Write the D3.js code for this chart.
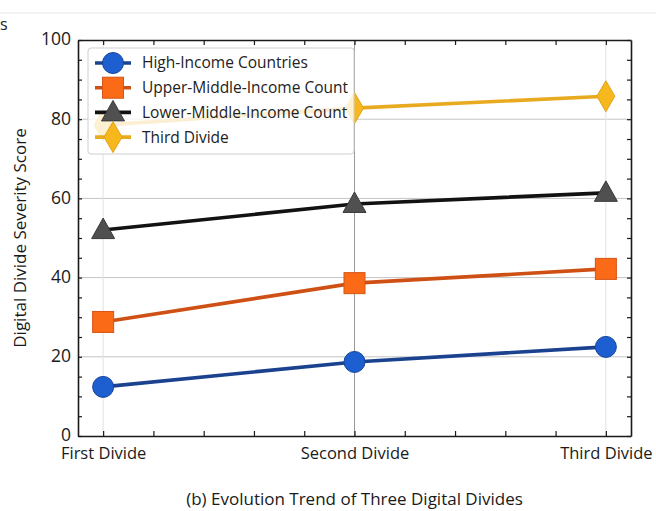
<!DOCTYPE html>
<html>
<head>
<meta charset="utf-8">
<script src="https://cdn.jsdelivr.net/npm/d3@7"></script>
<style>
  html, body { margin: 0; padding: 0; background: #fff; }
  svg { display: block; font-family: "Open Sans", "DejaVu Sans", sans-serif; }
</style>
</head>
<body>
<svg id="chart" width="656" height="511"></svg>
<script>
// Severity scores of the three digital divides by income group
const categories = ["First Divide", "Second Divide", "Third Divide"];
const seriesNames = [
  "High-Income Countries",
  "Upper-Middle-Income Countries",
  "Lower-Middle-Income Countries",
  "Third Divide"
];
const highIncome = [12.4, 18.7, 22.5];
const upperMiddleIncome = [28.8, 38.6, 42.2];
const lowerMiddleIncome = [52.0, 58.6, 61.4];
const thirdDivide = [78.5, 82.8, 85.8];
const yTickLabels = [0, 20, 40, 60, 80, 100];

const styles = [
  { line: "#1a428f", fill: "#1d5fd0", stroke: "#18449a", shape: "circle" },
  { line: "#cf5014", fill: "#fb6a16", stroke: "#d65416", shape: "square" },
  { line: "#121212", fill: "#505050", stroke: "#3a3a3a", shape: "triangle" },
  { line: "#e8ab20", fill: "#f6b81c", stroke: "#e2a21a", shape: "diamond" }
];
const seriesValues = [highIncome, upperMiddleIncome, lowerMiddleIncome, thirdDivide];

const svg = d3.select("#chart");
const L = 78, R = 631, T = 40, B = 436;

const x = d3.scaleLinear().domain([-0.1, 2.1]).range([L, R]);
const y = d3.scaleLinear().domain([0, 100]).range([B, T]);

// faint rule along the top of the page and a stray glyph from the neighbouring panel
svg.append("line").attr("x1", 0).attr("x2", 656).attr("y1", 13).attr("y2", 13)
  .attr("stroke", "#e6e6e6").attr("stroke-width", 1);
svg.append("text").attr("x", 0).attr("y", 30).attr("font-size", 16).attr("fill", "#222").text("s");

// grid
const grid = svg.append("g");
grid.selectAll("line.h").data(yTickLabels.filter(v => v > 0 && v < 100)).join("line")
  .attr("x1", L).attr("x2", R).attr("y1", d => y(d)).attr("y2", d => y(d))
  .attr("stroke", "#c4c4c4").attr("stroke-width", 1);
grid.selectAll("line.v").data(categories).join("line")
  .attr("x1", (d, i) => x(i)).attr("x2", (d, i) => x(i)).attr("y1", T).attr("y2", B)
  .attr("stroke", (d, i) => i === 1 ? "#9a9a9a" : "#e2e2e2").attr("stroke-width", 1);

// symbols
function drawMarker(g, shape, cx, cy, st) {
  let sel;
  if (shape === "circle") {
    sel = g.append("circle").attr("cx", cx).attr("cy", cy).attr("r", 10.5);
  } else if (shape === "square") {
    sel = g.append("rect").attr("x", cx - 10.5).attr("y", cy - 10.5).attr("width", 21).attr("height", 21);
  } else if (shape === "triangle") {
    sel = g.append("path").attr("d", `M${cx},${cy - 12}L${cx + 11.5},${cy + 8.5}L${cx - 11.5},${cy + 8.5}Z`);
  } else {
    sel = g.append("path").attr("d", `M${cx},${cy - 15.5}L${cx + 9},${cy}L${cx},${cy + 15.5}L${cx - 9},${cy}Z`);
  }
  sel.attr("fill", st.fill).attr("stroke", st.stroke).attr("stroke-width", 1);
}

const line = d3.line().x((d, i) => x(i)).y(d => y(d));
const plot = svg.append("g");
seriesValues.forEach((vals, k) => {
  const st = styles[k];
  plot.append("path").datum(vals).attr("d", line)
    .attr("fill", "none").attr("stroke", st.line).attr("stroke-width", 3.6);
  const mg = plot.append("g");
  vals.forEach((v, i) => drawMarker(mg, st.shape, x(i), y(v), st));
});

// legend
const lg = svg.append("g");
const lx = 88, ly = 48, lw = 266, lh = 106;
lg.append("defs").append("clipPath").attr("id", "legclip")
  .append("rect").attr("x", lx).attr("y", ly).attr("width", lw - 6).attr("height", lh);
lg.append("rect").attr("x", lx).attr("y", ly).attr("width", lw).attr("height", lh)
  .attr("rx", 3).attr("fill", "#fff").attr("fill-opacity", 0.8)
  .attr("stroke", "#cfcfcf").attr("stroke-width", 1);
const items = lg.append("g").attr("clip-path", "url(#legclip)");
seriesNames.forEach((name, k) => {
  const st = styles[k];
  const yy = 63 + k * 24.7;
  items.append("line").attr("x1", 95).attr("x2", 131).attr("y1", yy).attr("y2", yy)
    .attr("stroke", st.line).attr("stroke-width", 3.6);
  drawMarker(items, st.shape, 113, yy, st);
  items.append("text").attr("x", 142).attr("y", yy).attr("dy", "0.35em")
    .attr("font-size", 15.5).attr("fill", "#222").text(name);
});

// axes: ticks point inward on all four sides
const xTicks = d3.range(0, 11).map(i => i * 0.2);
const xFmt = v => {
  const r = Math.round(v);
  return Math.abs(v - r) < 1e-6 ? categories[r] : "";
};
const yMinor = d3.range(0, 21).map(i => i * 5);
const yFmt = v => (v % 20 === 0 ? String(v) : "");

const axB = svg.append("g").attr("transform", `translate(0,${B})`)
  .call(d3.axisBottom(x).tickValues(xTicks).tickFormat(xFmt).tickSizeInner(-5).tickSizeOuter(0).tickPadding(11));
const axT = svg.append("g").attr("transform", `translate(0,${T})`)
  .call(d3.axisTop(x).tickValues(xTicks).tickFormat("").tickSizeInner(-5).tickSizeOuter(0));
const axL = svg.append("g").attr("transform", `translate(${L},0)`)
  .call(d3.axisLeft(y).tickValues(yMinor).tickFormat(yFmt).tickSizeInner(-4).tickSizeOuter(0).tickPadding(7));
const axR = svg.append("g").attr("transform", `translate(${R},0)`)
  .call(d3.axisRight(y).tickValues(yMinor).tickFormat("").tickSizeInner(-4).tickSizeOuter(0));

[axB, axT, axL, axR].forEach(a => {
  a.select(".domain").attr("stroke", "#1a1a1a").attr("stroke-width", 1.6);
  a.selectAll(".tick line").attr("stroke", "#1a1a1a").attr("stroke-width", 1.2);
});
axB.selectAll("text").attr("font-size", 16.5).attr("fill", "#1a1a1a").attr("font-family", "'Open Sans', sans-serif");
axL.selectAll("text").attr("font-size", 17.5).attr("fill", "#1a1a1a").attr("font-family", "'Open Sans', sans-serif")
  .attr("dy", "0.28em");

// axis title
svg.append("text")
  .attr("transform", `translate(20,${(T + B) / 2}) rotate(-90)`)
  .attr("text-anchor", "middle").attr("dy", "0.35em")
  .attr("font-size", 17).attr("fill", "#1a1a1a")
  .text("Digital Divide Severity Score");

// caption
svg.append("text")
  .attr("x", (L + R) / 2).attr("y", 505)
  .attr("text-anchor", "middle").attr("font-size", 17).attr("fill", "#1a1a1a")
  .text("(b) Evolution Trend of Three Digital Divides");
</script>
</body>
</html>
